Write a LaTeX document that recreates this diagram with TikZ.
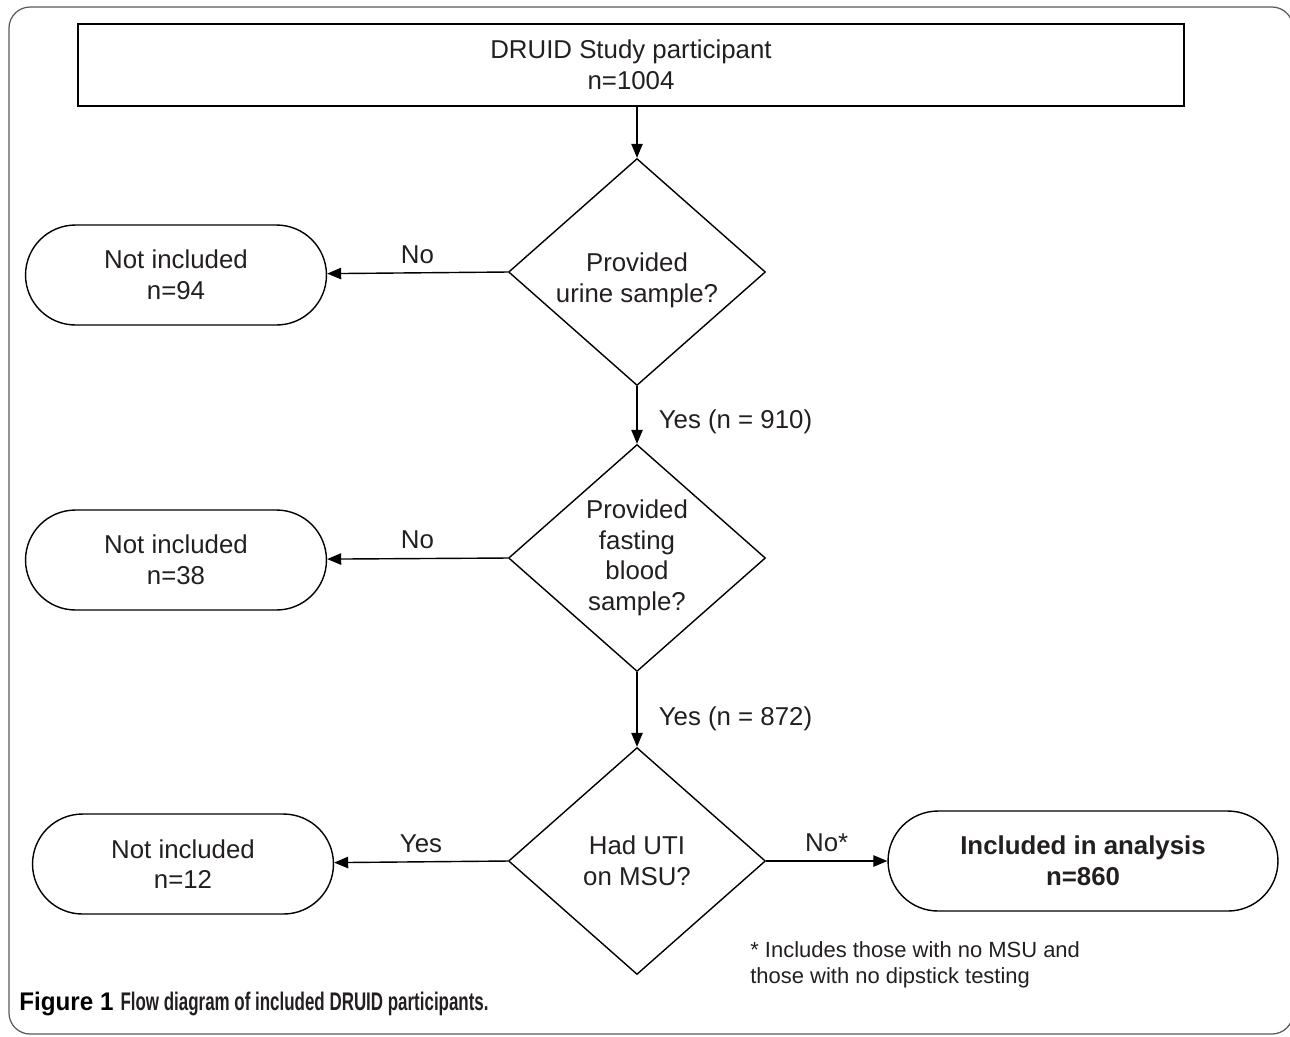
\documentclass[tikz,border=0pt]{standalone}
\usepackage{fontspec}
\setmainfont{Liberation Sans}
\usetikzlibrary{shapes.geometric, shapes.misc, arrows.meta, positioning}
\definecolor{inkgray}{HTML}{231F20}
\tikzstyle{startbox}=[draw, line width=1.1pt, rectangle, minimum width=22.12cm, minimum height=1.64cm, inner sep=0pt, align=center, text=inkgray]
\tikzstyle{decision}=[draw, line width=0.8pt, diamond, aspect=1.13, minimum width=5.14cm, minimum height=4.54cm, inner sep=0pt, align=center, text=inkgray]
\tikzstyle{terminal}=[draw, line width=0.8pt, rounded rectangle, minimum width=6.02cm, minimum height=2cm, inner sep=0pt, align=center, text=inkgray]
\tikzstyle{flow}=[line width=0.8pt, -{Triangle[length=8pt,width=6.5pt]}]
\tikzstyle{flowlabel}=[text=inkgray, inner sep=2pt]
\newcommand{\bodysize}{\fontsize{14.7}{17.4}\selectfont}

\begin{document}
\begin{tikzpicture}[x=0.02cm, y=-0.02cm, font=\bodysize]
    \useasboundingbox (0,0) rectangle (1290,1036);
    \draw[black!65, line width=0.7pt, rounded corners=12pt] (9,7) rectangle (1293,1034);

    \node (start)[startbox] at (631,65) {DRUID Study participant\\n=1004};

    \node (urine)[decision] at (637,272) {\\[3pt]Provided\\urine sample?};
    \node (blood)[decision] at (637,558) {Provided\\fasting\\blood\\sample?};
    \node (uti)[decision] at (637,861) {Had UTI\\on MSU?};

    \node (out1)[terminal] at (176,275) {Not included\\n=94};
    \node (out2)[terminal] at (176,560) {Not included\\n=38};
    \node (out3)[terminal] at (183,864) {Not included\\n=12};
    \node (incl)[terminal, minimum width=7.8cm] at (1083,861) {\bfseries Included in analysis\\\bfseries n=860};

    \draw[flow] (start.south -| urine) -- (urine);
    \draw[flow] (urine.west) -- (out1) node [flowlabel,midway,above=3pt] {No};
    \draw[flow] (urine.south) -- (blood.north) node [flowlabel,pos=0.62,right=10pt] {Yes (n = 910)};
    \draw[flow] (blood.west) -- (out2) node [flowlabel,midway,above=3pt] {No};
    \draw[flow] (blood.south) -- (uti.north) node [flowlabel,pos=0.62,right=10pt] {Yes (n = 872)};
    \draw[flow] (uti.west) -- (out3) node [flowlabel,midway,above=3pt] {Yes};
    \draw[flow] (uti.east) -- (incl) node [flowlabel,midway,above=3pt] {No*};

    \node (note)[text=inkgray, anchor=north west, align=left, inner sep=0pt, font=\fontsize{12.5}{14.8}\selectfont] at (750,941) {* Includes those with no MSU and\\those with no dipstick testing};

    \node (caption)[anchor=west, inner sep=0pt, font=\fontsize{14.5}{17}\selectfont\bfseries] at (19,1004) {\scalebox{0.95}[1]{Figure 1} \scalebox{0.665}[1]{\textcolor{inkgray}{Flow diagram of included DRUID participants.}}};
\end{tikzpicture}
\end{document}
